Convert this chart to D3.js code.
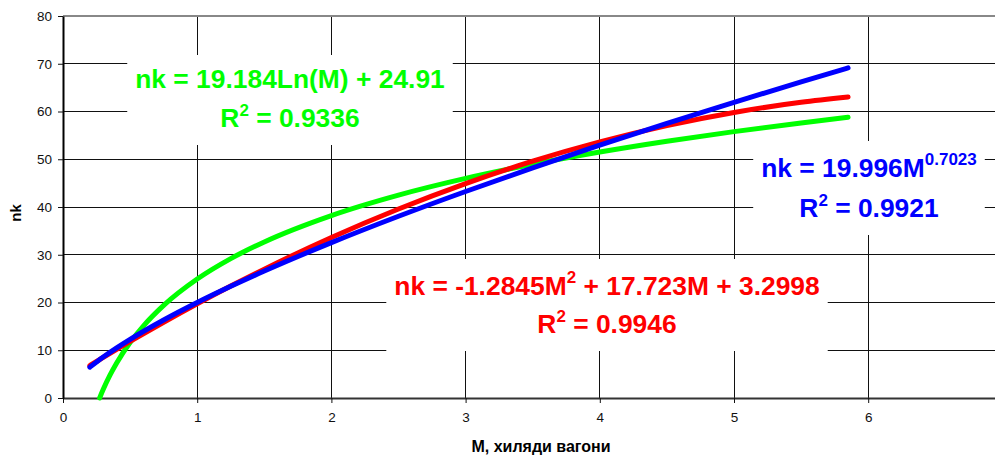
<!DOCTYPE html>
<html>
<head>
<meta charset="utf-8">
<script src="https://cdn.jsdelivr.net/npm/d3@7"></script>
<style>
  body { margin: 0; background: #fff; }
  svg { display: block; font-family: "Liberation Sans", Arial, sans-serif; }
</style>
</head>
<body>
<div id="chart"></div>
<script>
// values
const mValues = [0.2, 0.3, 0.4, 0.5, 0.75, 1, 1.25, 1.5, 2, 2.5, 3, 3.5, 4, 4.5, 5, 5.5, 5.85];
const polyValues = [6.79, 8.50, 10.18, 11.84, 15.87, 19.74, 23.45, 26.99, 33.61, 39.58, 44.91, 49.60, 53.64, 57.04, 59.80, 61.92, 63.02];
const powerValues = [6.46, 8.59, 10.51, 12.29, 16.34, 20.00, 23.39, 26.59, 32.54, 38.06, 43.25, 48.20, 52.94, 57.51, 61.92, 66.21, 69.13];
const logM = [0.273, 0.3, 0.35, 0.4, 0.5, 0.6, 0.75, 1, 1.25, 1.5, 2, 2.5, 3, 3.5, 4, 4.5, 5, 5.5, 5.85];
const logValues = [0, 1.81, 4.77, 7.33, 11.61, 15.11, 19.39, 24.91, 29.19, 32.69, 38.21, 42.49, 45.99, 48.94, 51.51, 53.77, 55.79, 57.61, 58.80];

const xTicks = [0, 1, 2, 3, 4, 5, 6];
const yTicks = [0, 10, 20, 30, 40, 50, 60, 70, 80];

const labels = [
  {color: "#00ff00", cx: 290, y1: 88, y2: 127, eq: ["nk = 19.184Ln(M) + 24.91"], r2: "0.9336"},
  {color: "#0000ff", cx: 869, y1: 177, y2: 217, eq: ["nk = 19.996M", "0.7023"], r2: "0.9921"},
  {color: "#ff0000", cx: 607, y1: 295, y2: 333, eq: ["nk = -1.2845M", "2", " + 17.723M + 3.2998"], r2: "0.9946"}
];

const width = 995, height = 456;
const plotLeft = 63, plotTop = 16, plotBottom = 398;

const x = d3.scaleLinear().domain([0, 7]).range([plotLeft, plotLeft + 7 * 134.2]);
const y = d3.scaleLinear().domain([0, 80]).range([plotBottom, plotTop]);

const svg = d3.select("#chart").append("svg")
  .attr("width", width)
  .attr("height", height);

// grid
const grid = svg.append("g").attr("shape-rendering", "crispEdges");
grid.selectAll(".vg").data(xTicks.slice(1)).enter().append("line")
  .attr("x1", d => x(d)).attr("x2", d => x(d))
  .attr("y1", plotTop).attr("y2", plotBottom)
  .attr("stroke", "#111").attr("stroke-width", 1);
grid.selectAll(".hg").data(yTicks.slice(1, -1)).enter().append("line")
  .attr("x1", plotLeft).attr("x2", width)
  .attr("y1", d => y(d)).attr("y2", d => y(d))
  .attr("stroke", "#111").attr("stroke-width", 1);

// top border
svg.append("line")
  .attr("x1", plotLeft).attr("x2", width)
  .attr("y1", plotTop).attr("y2", plotTop)
  .attr("stroke", "#888").attr("stroke-width", 2);

// axes
const xAxis = svg.append("g")
  .attr("transform", `translate(0, ${plotBottom})`)
  .call(d3.axisBottom(x).tickValues(xTicks).tickFormat(d3.format("d"))
    .tickSize(5).tickSizeOuter(0).tickPadding(9));
xAxis.select(".domain").attr("stroke", "#333").attr("stroke-width", 2);
xAxis.selectAll(".tick line").attr("stroke", "#111");
xAxis.selectAll("text").style("font-size", "13.5px").attr("fill", "#111");

const yAxis = svg.append("g")
  .attr("transform", `translate(${plotLeft}, 0)`)
  .call(d3.axisLeft(y).tickValues(yTicks).tickFormat(d3.format("d"))
    .tickSize(5).tickSizeOuter(0).tickPadding(6));
yAxis.select(".domain").attr("stroke", "#000").attr("stroke-width", 2);
yAxis.selectAll(".tick line").attr("stroke", "#111");
yAxis.selectAll("text").style("font-size", "13.5px").attr("fill", "#111");

// axis titles
svg.append("text")
  .attr("x", 541).attr("y", 452)
  .attr("text-anchor", "middle")
  .style("font-size", "16px").style("font-weight", "bold")
  .text("M, хиляди вагони");
svg.append("text")
  .attr("transform", "translate(21, 213) rotate(-90)")
  .attr("text-anchor", "middle")
  .style("font-size", "15px").style("font-weight", "bold")
  .text("nk");

// equation labels with white boxes
labels.forEach(lb => {
  const g = svg.append("g");
  const rect = g.append("rect").attr("fill", "#fff");
  const t1 = g.append("text")
    .attr("x", lb.cx).attr("y", lb.y1)
    .attr("text-anchor", "middle")
    .attr("fill", lb.color)
    .style("font-size", "26.4px").style("font-weight", "bold");
  lb.eq.forEach((s, i) => {
    const sp = t1.append("tspan").text(s);
    if (i % 2 === 1) {
      sp.style("font-size", "17px").attr("dy", -12);
    } else if (i > 0) {
      sp.attr("dy", 12);
    }
  });
  const t2 = g.append("text")
    .attr("x", lb.cx).attr("y", lb.y2)
    .attr("text-anchor", "middle")
    .attr("fill", lb.color)
    .style("font-size", "26.4px").style("font-weight", "bold");
  t2.append("tspan").text("R");
  t2.append("tspan").text("2").style("font-size", "17px").attr("dy", -11);
  t2.append("tspan").text(" = " + lb.r2).attr("dy", 11);
  const b1 = t1.node().getBBox(), b2 = t2.node().getBBox();
  const x0 = Math.min(b1.x, b2.x) - 8, x1 = Math.max(b1.x + b1.width, b2.x + b2.width) + 8;
  rect.attr("x", x0).attr("y", b1.y - 9)
    .attr("width", x1 - x0).attr("height", b2.y + b2.height - b1.y + 21);
});

// curves
const line = d3.line()
  .x(d => x(d[0]))
  .y(d => y(d[1]))
  .curve(d3.curveMonotoneX);

const series = [
  {color: "#00ff00", pts: logM.map((m, i) => [m, logValues[i]])},
  {color: "#ff0000", pts: mValues.map((m, i) => [m, polyValues[i]])},
  {color: "#0000ff", pts: mValues.map((m, i) => [m, powerValues[i]])}
];

svg.selectAll(".curve").data(series).enter().append("path")
  .attr("class", "curve")
  .attr("d", d => line(d.pts))
  .attr("fill", "none")
  .attr("stroke", d => d.color)
  .attr("stroke-width", 5)
  .attr("stroke-linecap", "round");
</script>
</body>
</html>
